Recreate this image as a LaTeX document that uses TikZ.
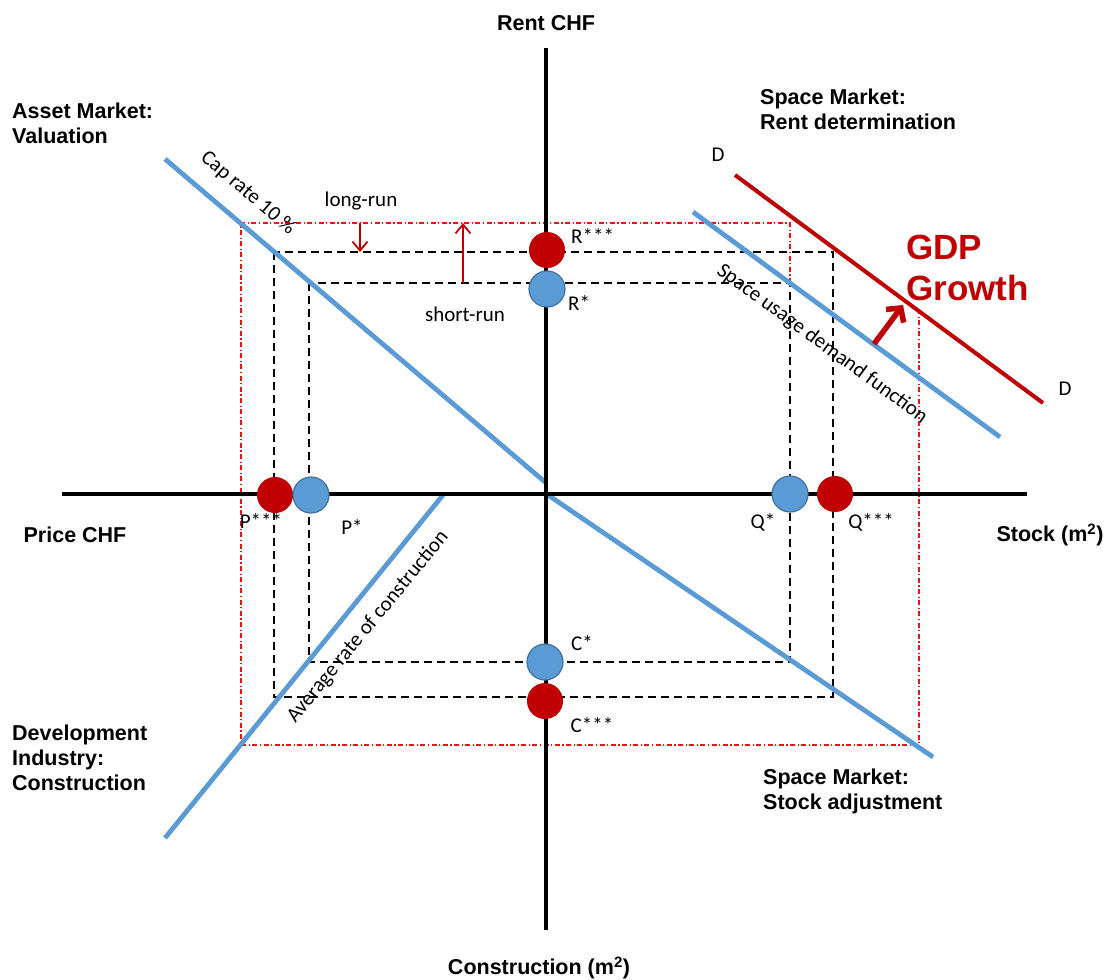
\documentclass[tikz,border=0pt]{standalone}
\usepackage{fontspec}
\setmainfont{Carlito}
\newfontfamily\arialf{Liberation Sans}
\usetikzlibrary{arrows.meta}
\definecolor{bl}{RGB}{91,155,213}
\definecolor{ble}{RGB}{65,113,156}
\definecolor{rd}{RGB}{192,0,0}
\definecolor{rdd}{RGB}{235,20,20}
\begin{document}
\begin{tikzpicture}[x=1pt,y=-1pt,
  axis/.style={line width=3.2pt,black},
  bluel/.style={line width=4.8pt,color=bl},
  redl/.style={line width=4pt,color=rd},
  eqbox/.style={line width=2.2pt,dash pattern=on 8pt off 5pt},
  ddot/.style={color=rdd,line width=1.1pt,dash pattern=on 5pt off 2.5pt on 1.2pt off 2.5pt},
  bdot/.style={circle,fill=bl,draw=ble,line width=1.2pt,minimum size=36pt,inner sep=0pt},
  rdot/.style={circle,fill=rd,draw=rd,line width=1pt,minimum size=35pt,inner sep=0pt},
  lab/.style={font=\fontsize{21.5}{25}\selectfont\arialf\bfseries,align=left,inner sep=0pt},
  sm/.style={font=\fontsize{21}{24}\selectfont,inner sep=0pt},
  runarr/.style={rd,line width=1.8pt,-{Straight Barb[length=9pt,width=15pt,line width=1.8pt]}},
]
\useasboundingbox (0,0) rectangle (1107,979);

% coordinates
\coordinate (vt) at (546,48);
\coordinate (vb) at (546,930);
\coordinate (hl) at (62,494);
\coordinate (hr) at (1027,494);
\coordinate (cap1) at (165,159);
\coordinate (cap2) at (545,482);
\coordinate (adj1) at (548,495);
\coordinate (adj2) at (933,757);
\coordinate (con1) at (165,838);
\coordinate (con2) at (443,495);
\coordinate (dem1) at (693,212);
\coordinate (dem2) at (1000,437);
\coordinate (dd1) at (735,175);
\coordinate (dd2) at (1043,403);

% red dash-dot path
\coordinate (r1) at (790,283);
\coordinate (r2) at (790,223);
\coordinate (r3) at (241,223);
\coordinate (r4) at (241,745);
\coordinate (r5) at (919,745);
\coordinate (r6) at (919,311);
\draw[ddot] (r1) -- (r2) -- (r3) -- (r4) -- (r5) -- (r6);

% dashed equilibrium boxes
\coordinate (o1) at (274,252);
\coordinate (o2) at (833,697);
\coordinate (i1) at (309,283);
\coordinate (i2) at (790,662);
\draw[eqbox] (o1) rectangle (o2);
\draw[eqbox] (i1) rectangle (i2);

% functions
\draw[bluel] (cap1) -- (cap2);
\draw[bluel] (adj1) -- (adj2);
\draw[bluel] (con1) -- (con2);
\draw[bluel] (dem1) -- (dem2);
\draw[redl] (dd1) -- (dd2);

% axes
\draw[axis] (vt) -- (vb);
\draw[axis] (hl) -- (hr);

% arrows
\coordinate (la1) at (360,223);
\coordinate (la2) at (360,252);
\coordinate (sa1) at (463,283);
\coordinate (sa2) at (463,223);
\draw[runarr] (la1) -- (la2);
\draw[runarr] (sa1) -- (sa2);
\coordinate (ga1) at (874,344);
\coordinate (ga2) at (903,305);
\draw[rd,line width=5.5pt,-{Straight Barb[length=10pt,width=22pt,line width=5.5pt]}] (ga1) -- (ga2);

% dots
\node[rdot] (Rs3) at (547,250) {};
\node[bdot] (Rs1) at (547,289) {};
\node[rdot] (Ps3) at (275,495) {};
\node[bdot] (Ps1) at (311,495) {};
\node[bdot] (Qs1) at (790,494) {};
\node[rdot] (Qs3) at (835,494) {};
\node[bdot] (Cs1) at (545,662) {};
\node[rdot] (Cs3) at (545,701) {};

% dot labels
\node[sm,anchor=west] (tR3) at (571,236) {R***};
\node[sm,anchor=west] (tR1) at (568,303) {R*};
\node[sm] (tP3) at (261,521) {P***};
\node[sm] (tP1) at (352,527) {P*};
\node[sm] (tQ1) at (763,522) {Q*};
\node[sm] (tQ3) at (871,522) {Q***};
\node[sm] (tC1) at (582,643) {C*};
\node[sm] (tC3) at (592,725) {C***};

% function labels
\node[sm,rotate=-40.4] (tcap) at (248,193) {Cap rate 10 \%};
\node[sm,rotate=-36.2] (tdem) at (822,344) {Space usage demand function};
\node[sm,rotate=50.5] (tcon) at (368,627) {Average rate of construction};
\node[sm] (tlr) at (361,201) {long-run};
\node[sm] (tsr) at (465,314) {short-run};
\node[sm] (tD1) at (718,155) {D};
\node[sm] (tD2) at (1065,389) {D};

% quadrant and axis labels
\node[lab,anchor=center] (trent) at (546,23) {Rent CHF};
\node[lab,anchor=west] (tasset) at (12,123) {Asset Market:\\Valuation};
\node[lab,anchor=west] (tspace) at (760,109) {Space Market:\\Rent determination};
\node[lab,anchor=west] (tdev) at (12,758) {Development\\Industry:\\Construction};
\node[lab,anchor=west] (tstock) at (763,791) {Space Market:\\Stock adjustment};
\node[lab,anchor=center] (tprice) at (75,535) {Price CHF};
\node[lab,anchor=center] (tstk) at (1050,535) {Stock (m\textsuperscript{2})};
\node[lab,anchor=center] (tconst) at (539,968) {Construction (m\textsuperscript{2})};
\node[lab,anchor=west,text=rd,font=\fontsize{35}{41}\selectfont\arialf\bfseries] (tgdp) at (906,268) {GDP\\Growth};
\end{tikzpicture}
\end{document}
